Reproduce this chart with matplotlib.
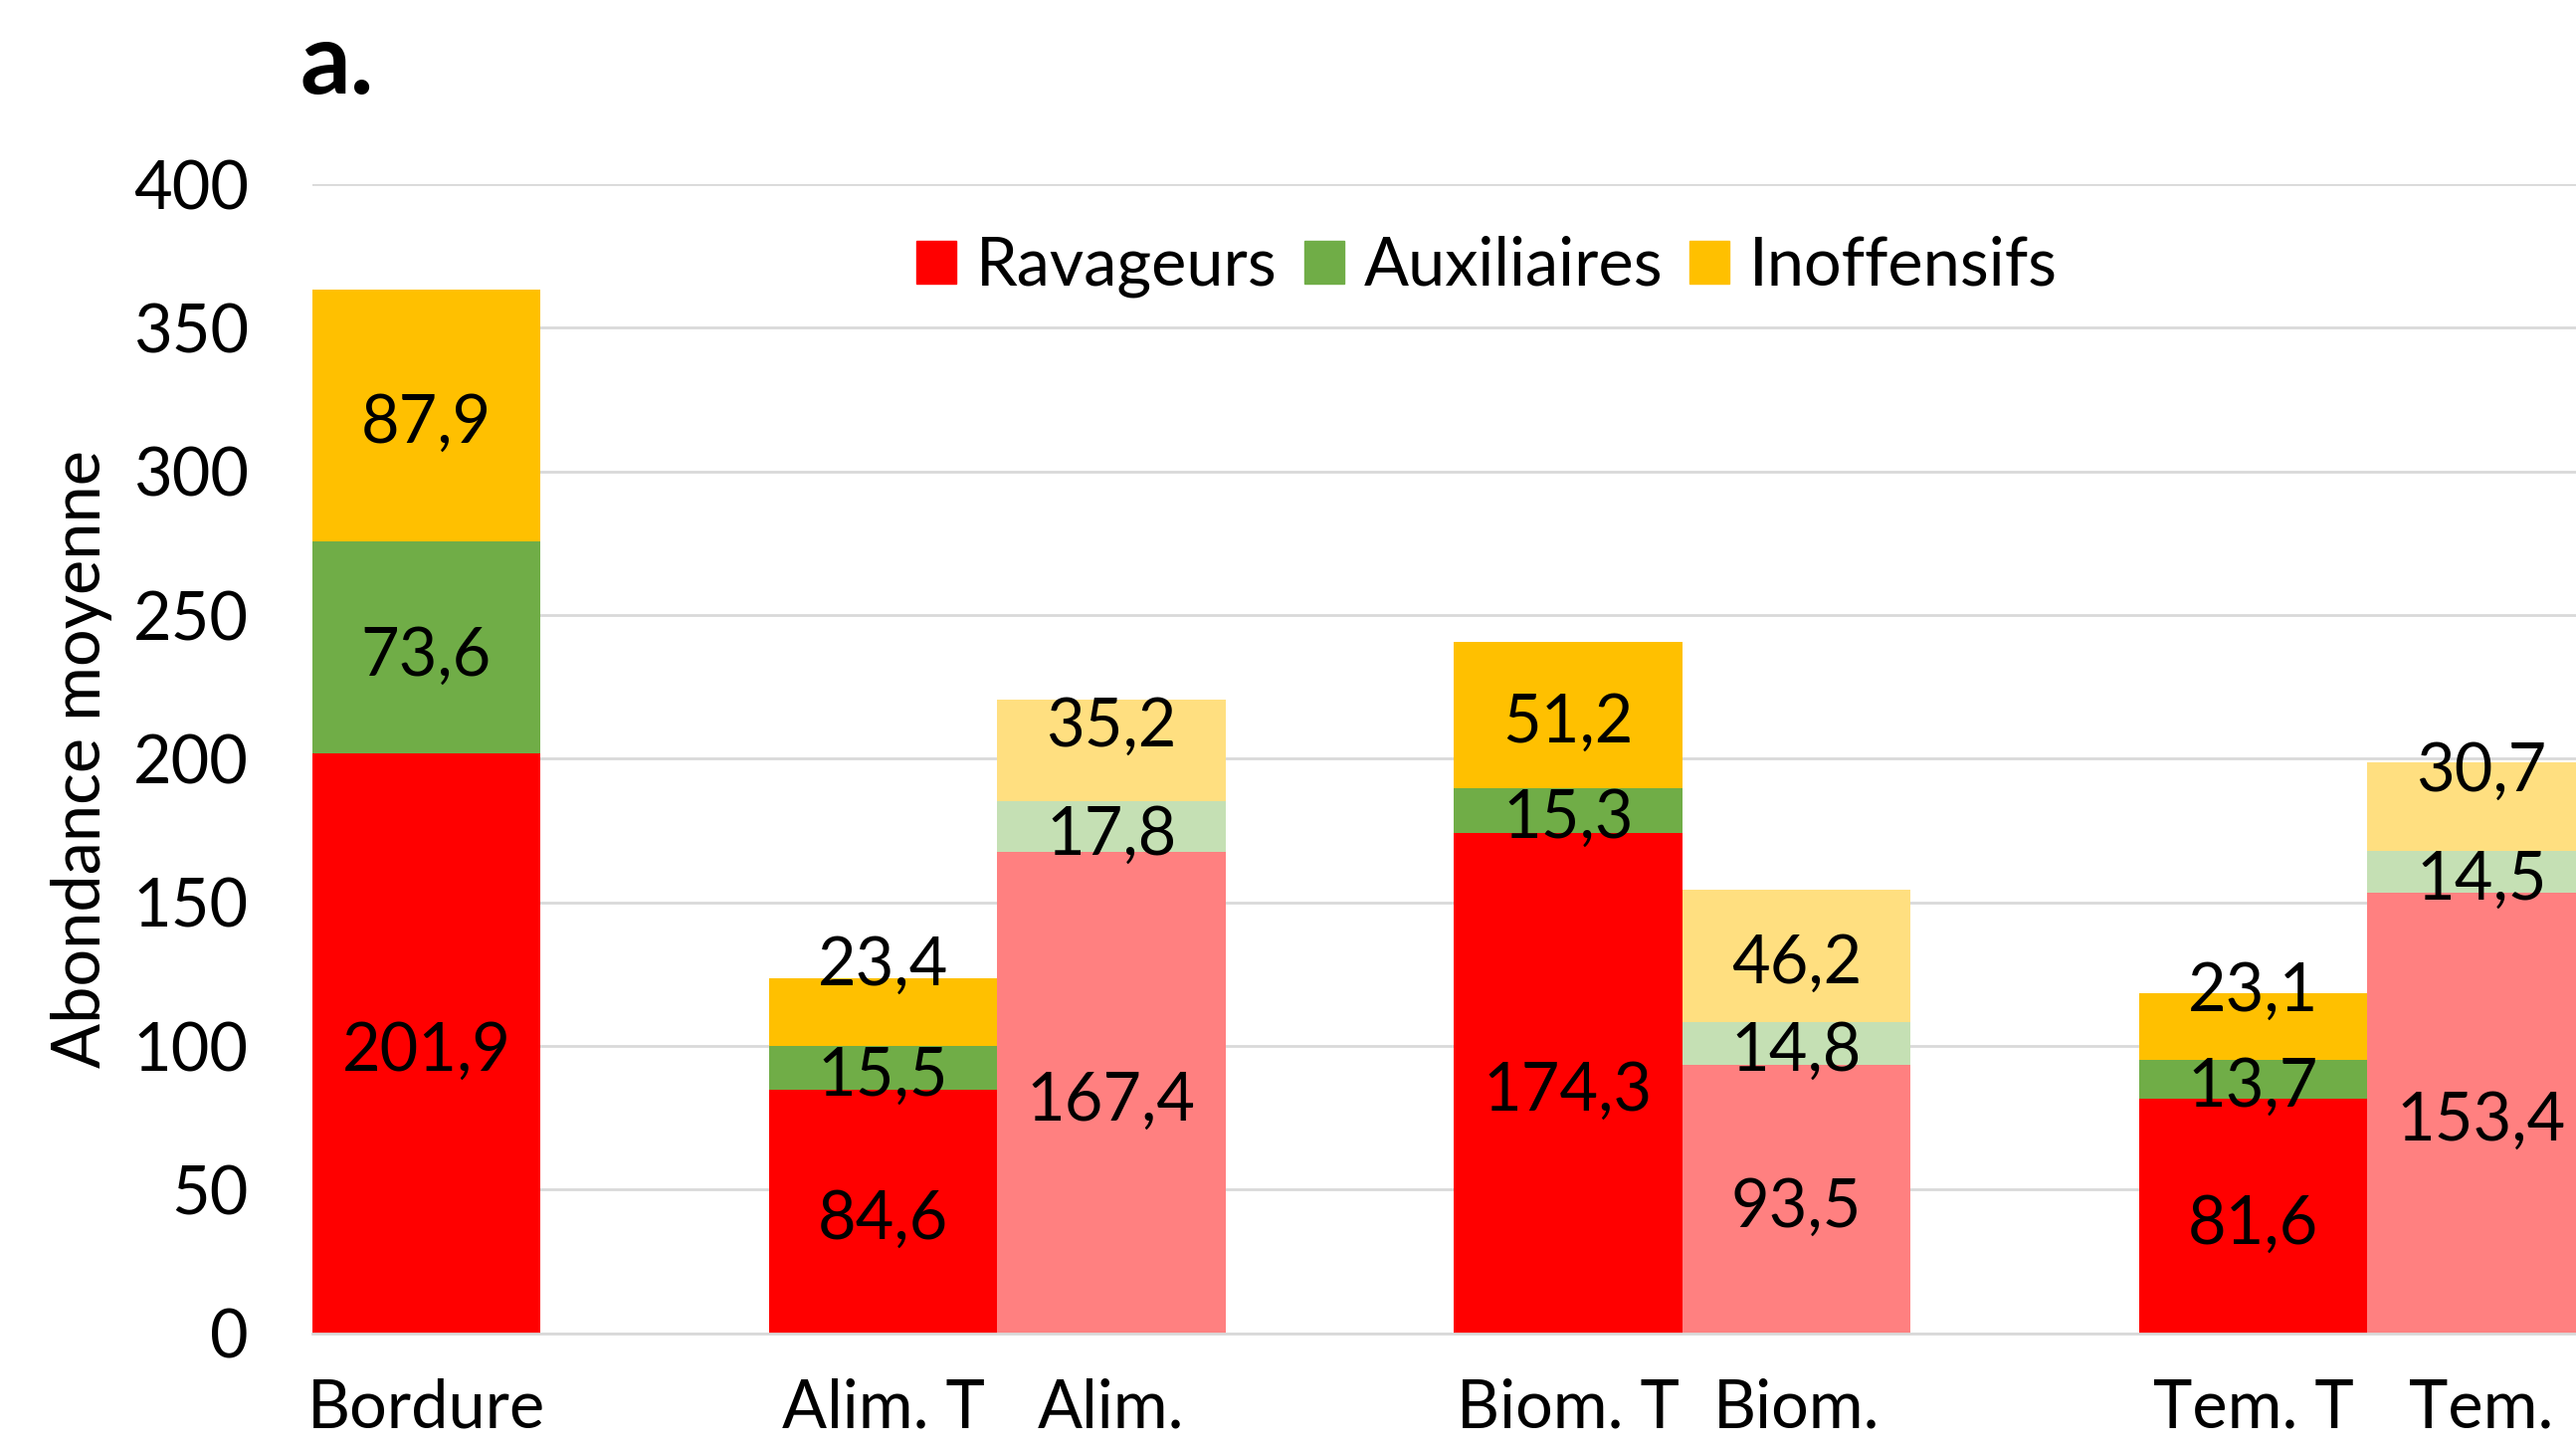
import numpy as np
import matplotlib
matplotlib.use('Agg')
import matplotlib.pyplot as plt
from matplotlib.patches import Patch

plt.rcParams['font.family'] = ['Lato', 'DejaVu Sans']

categories = ['Bordure', 'Alim. T', 'Alim.', 'Biom. T', 'Biom.', 'Tem. T', 'Tem.']
positions = [0, 2, 3, 5, 6, 8, 9]
ravageurs = [201.9, 84.6, 167.4, 174.3, 93.5, 81.6, 153.4]
auxiliaires = [73.6, 15.5, 17.8, 15.3, 14.8, 13.7, 14.5]
inoffensifs = [87.9, 23.4, 35.2, 51.2, 46.2, 23.1, 30.7]
# bars of the treated plots are drawn in pale colours
pale = [False, False, True, False, True, False, True]

# small manual lift of some top labels (as in the original figure)
top_lift = [0, 19, 11, 0, 0, 15, 15]

dark = ['#FF0000', '#70AD47', '#FFC000']
light = ['#FF8080', '#C5E0B4', '#FFDF80']

FS = 48

fig = plt.figure(figsize=(25.89, 14.57), dpi=100)
ax = fig.add_axes([190 / 1568, 1 - 811 / 882, 1378 / 1568, 699 / 882])

series = [ravageurs, auxiliaires, inoffensifs]
bottom = np.zeros(len(categories))
for s, vals in enumerate(series):
    vals = np.array(vals)
    cols = [light[s] if p else dark[s] for p in pale]
    ax.bar(positions, vals, width=1.0, bottom=bottom, color=cols, zorder=2)
    for i, (x, v) in enumerate(zip(positions, vals)):
        y = bottom[i] + v / 2 - 3
        if s == 2:
            y += top_lift[i]
        ax.text(x, y, f'{v:.1f}'.replace('.', ','), ha='center', va='center',
                fontsize=FS, color='black', zorder=3, clip_on=True)
    bottom = bottom + vals

ax.set_xlim(-0.5, 9.414)
ax.set_ylim(0, 400)
ax.set_yticks(np.arange(0, 401, 50))
ax.set_xticks(positions)
ax.set_xticklabels(categories)
ax.tick_params(axis='both', length=0, labelsize=FS)
ax.tick_params(axis='x', pad=32)
ax.tick_params(axis='y', pad=46)
ax.grid(axis='y', color='#D9D9D9', linewidth=2, zorder=0)
for side in ['top', 'right', 'left']:
    ax.spines[side].set_visible(False)
ax.spines['bottom'].set_color('#D9D9D9')
ax.spines['bottom'].set_linewidth(2)

ax.set_ylabel('Abondance moyenne', fontsize=FS)
ax.yaxis.set_label_coords(-0.088, 0.5)

handles = [Patch(color=c) for c in dark]
ax.legend(handles, ['Ravageurs', 'Auxiliaires', 'Inoffensifs'], ncol=3,
          loc='center', bbox_to_anchor=(0.519, 0.928), frameon=False,
          fontsize=FS, handlelength=0.6, handleheight=0.6,
          handletextpad=0.3, columnspacing=0.4)

fig.text(302 / 2589, 1 - 94 / 1457, 'a.', fontsize=72, fontweight='bold',
         ha='left', va='baseline')

fig.savefig('out.png', dpi=100)
